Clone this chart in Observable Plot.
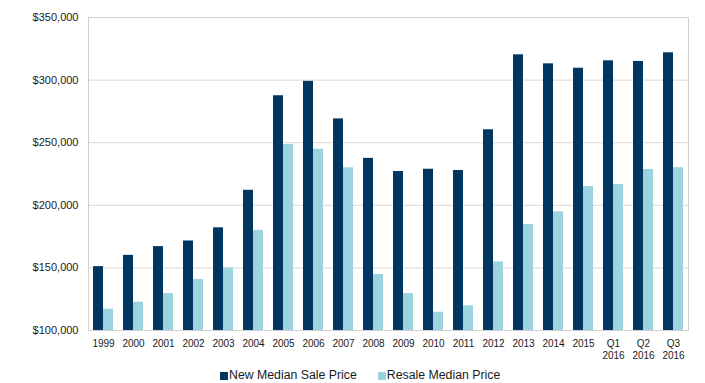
<!DOCTYPE html>
<html>
<head>
<meta charset="utf-8">
<script src="https://cdn.jsdelivr.net/npm/d3@7"></script>
<script src="https://cdn.jsdelivr.net/npm/@observablehq/plot@0.6"></script>
<style>
  html, body { margin: 0; padding: 0; background: #fff; }
  #chart { width: 705px; height: 383px; position: relative; font-family: "Liberation Sans", Arial, sans-serif; }
  #legend { position: absolute; left: 220px; top: 367px; height: 16px; line-height: 16px; font-size: 12.3px; color: #1a1a1a; display: flex; align-items: center; white-space: nowrap; }
  .item { display: flex; align-items: center; }
  .item + .item { margin-left: 21px; }
  .sw { width: 8px; height: 8px; margin-right: 1px; margin-top: 2px; }
</style>
</head>
<body>
<div id="chart"></div>
<script>
const categories = ["1999","2000","2001","2002","2003","2004","2005","2006","2007","2008","2009","2010","2011","2012","2013","2014","2015","Q1 2016","Q2 2016","Q3 2016"];
const tickLabels = ["1999","2000","2001","2002","2003","2004","2005","2006","2007","2008","2009","2010","2011","2012","2013","2014","2015","Q1\n2016","Q2\n2016","Q3\n2016"];
const seriesNames = ["New Median Sale Price", "Resale Median Price"];
const seriesColors = ["#00365F", "#9DD3DE"];
const newPrice = [151000,160000,167000,171500,182000,212000,287500,299000,269000,237500,227000,228800,227800,260300,320200,313000,309500,315400,314900,321800];
const resalePrice = [117000,122600,129500,140700,150000,180000,248600,244800,230000,144700,129500,114600,119700,154800,184700,194800,215000,216600,228600,230000];
const yTicks = [100000,150000,200000,250000,300000,350000];

const rows = categories.flatMap((c, i) => [
  {cat: c, series: seriesNames[0], value: newPrice[i]},
  {cat: c, series: seriesNames[1], value: resalePrice[i]}
]);

const chart = Plot.plot({
  width: 705, height: 362,
  marginTop: 17, marginBottom: 32, marginLeft: 78, marginRight: 8,
  style: {fontFamily: "Liberation Sans, Arial, sans-serif", color: "#1a1a1a", background: "white"},
  fx: {domain: categories, padding: 0, label: null},
  x: {domain: seriesNames, paddingInner: 0, paddingOuter: 0.364, axis: null},
  y: {domain: [100000, 350000], clamp: true},
  color: {domain: seriesNames, range: seriesColors},
  marks: [
    Plot.gridY(yTicks, {stroke: "#d9d9d9", strokeOpacity: 1}),
    Plot.frame({facet: "super", stroke: "#d0d0d0"}),
    Plot.barY(rows, {fx: "cat", x: "series", y: "value", fill: "series"}),
    Plot.axisY(yTicks, {tickSize: 0, tickPadding: 10, fontSize: 11, label: null, tickFormat: d => "$" + d3.format(",")(d)}),
    Plot.axisFx({anchor: "bottom", tickSize: 0, tickPadding: 8, fontSize: 10, lineHeight: 1.2, label: null, tickFormat: c => tickLabels[categories.indexOf(c)]})
  ]
});
const root = document.getElementById("chart");
root.appendChild(chart);

const legend = document.createElement("div");
legend.id = "legend";
seriesNames.forEach((name, i) => {
  const item = document.createElement("span");
  item.className = "item";
  const sw = document.createElement("span");
  sw.className = "sw";
  sw.style.background = seriesColors[i];
  item.appendChild(sw);
  item.appendChild(document.createTextNode(name));
  legend.appendChild(item);
});
root.appendChild(legend);
</script>
</body>
</html>
